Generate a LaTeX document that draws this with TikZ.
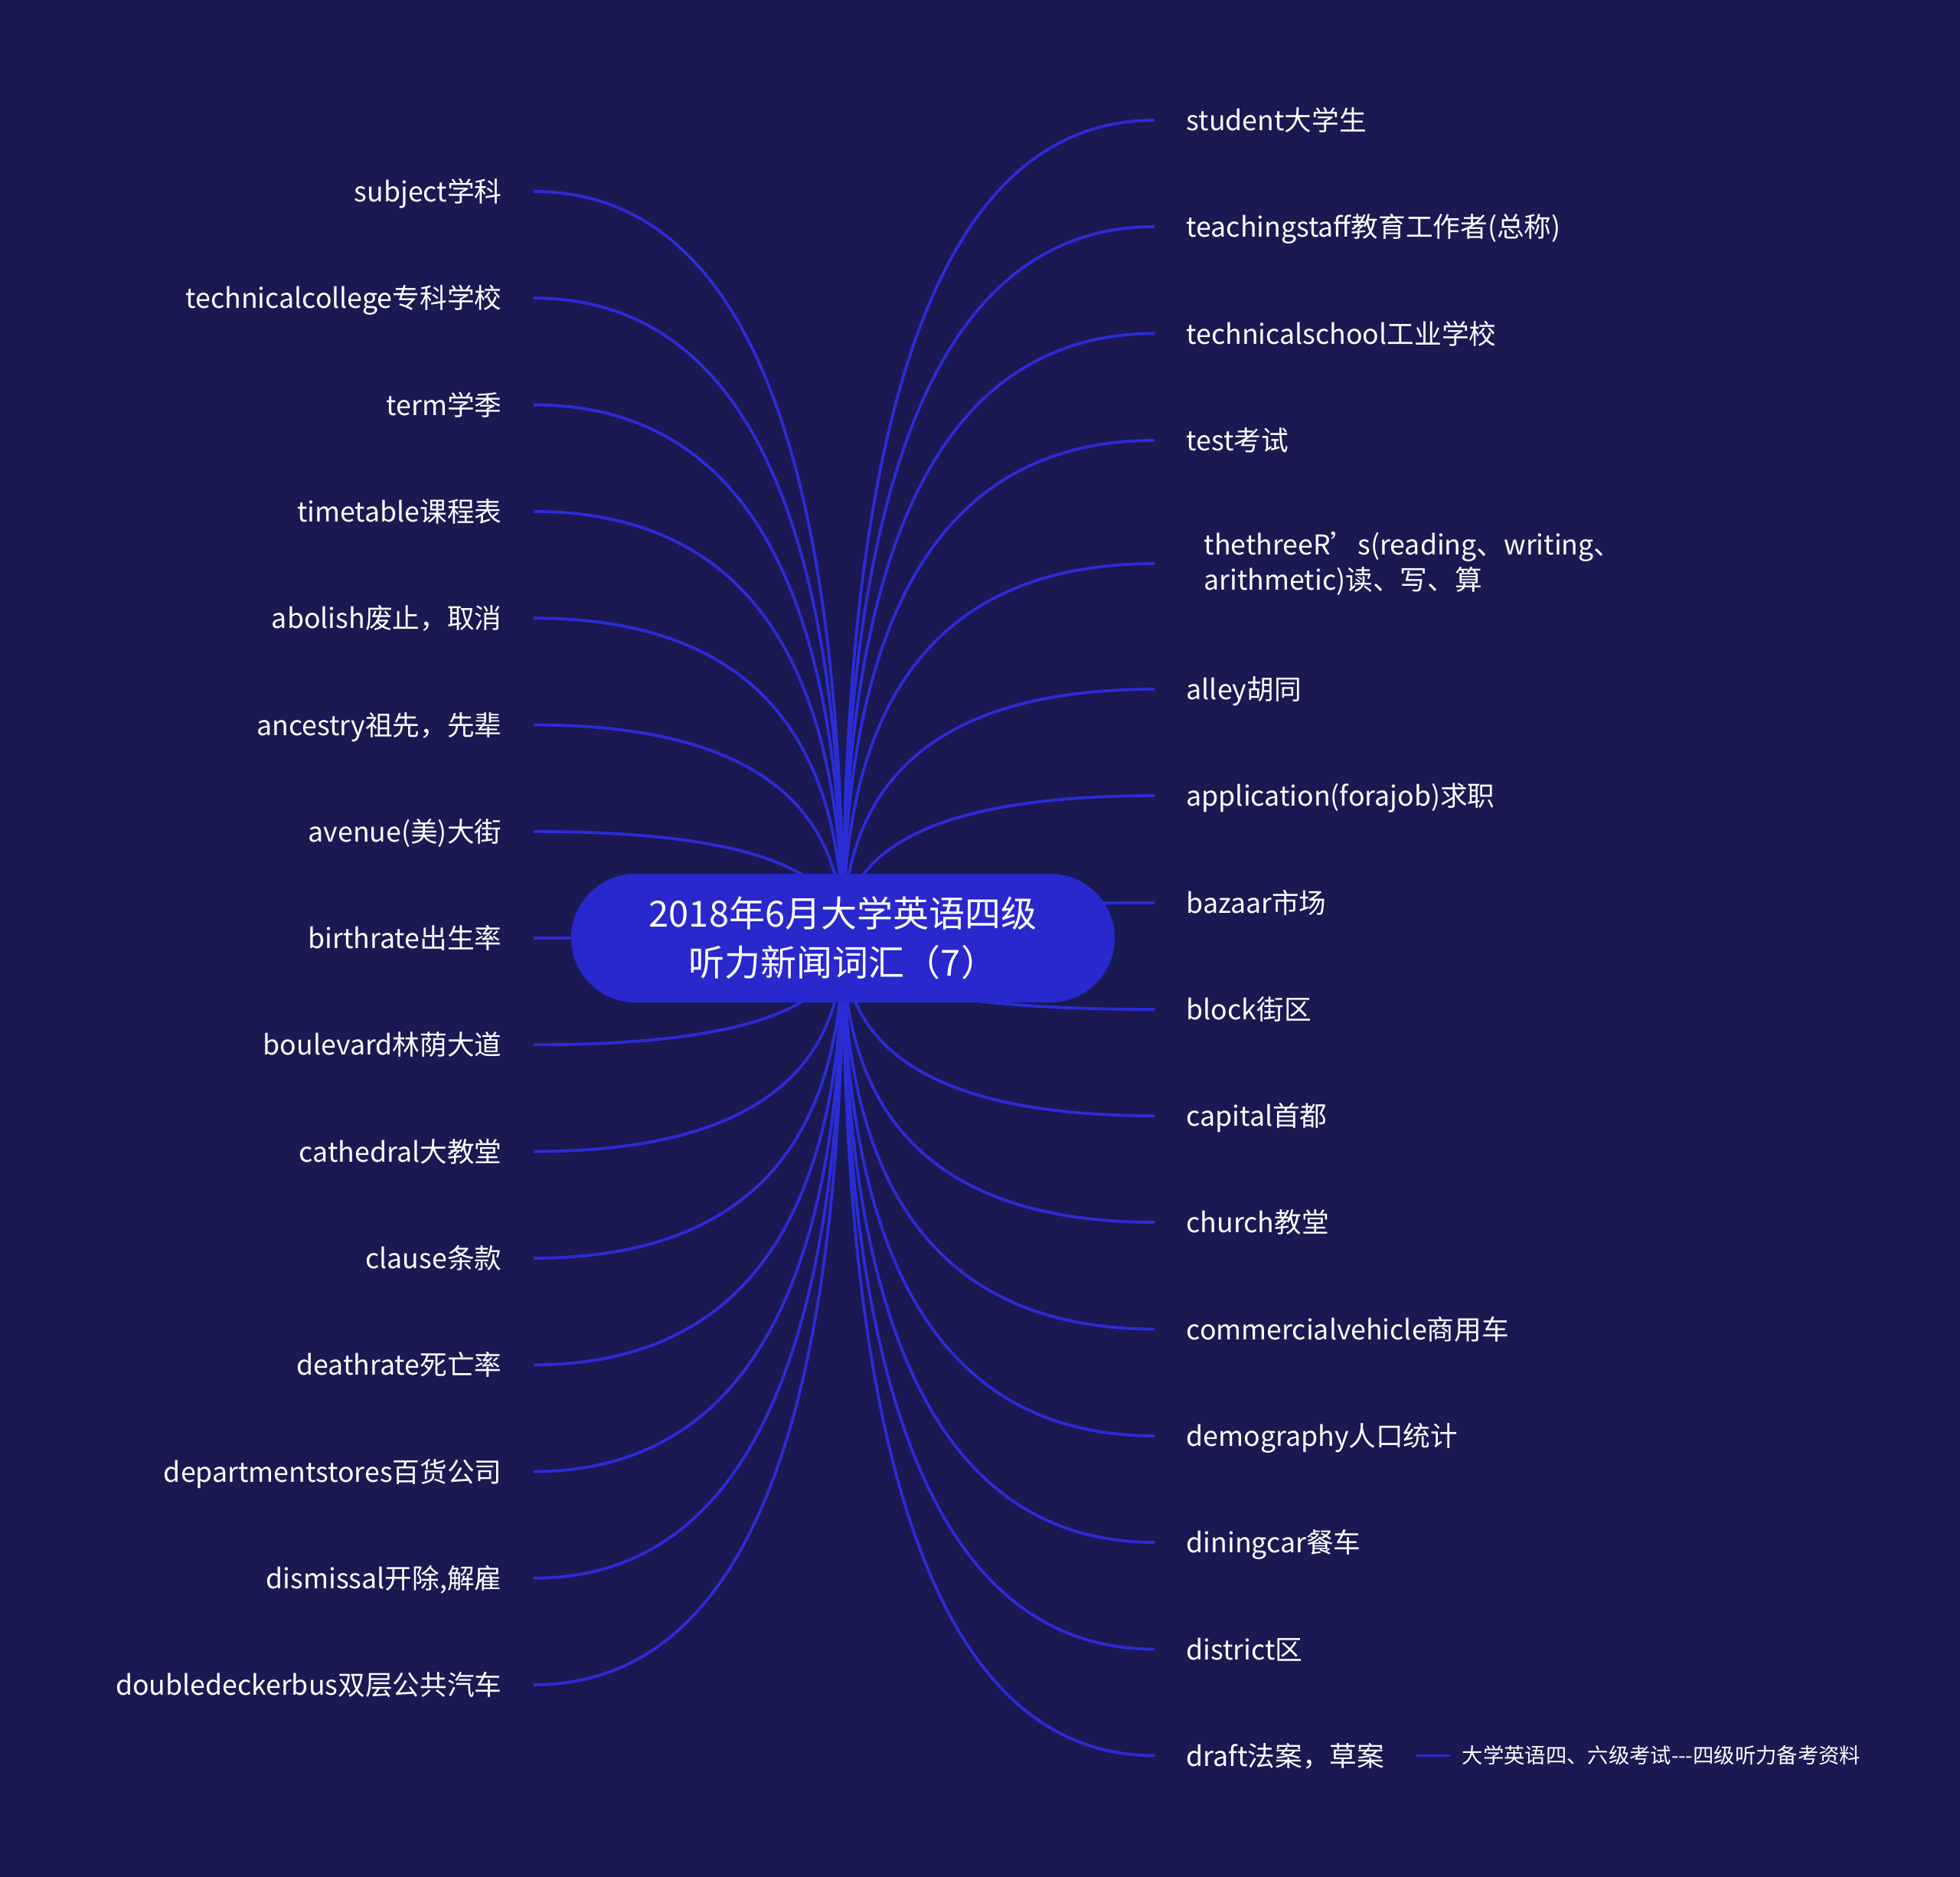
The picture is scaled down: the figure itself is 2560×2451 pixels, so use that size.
\documentclass[tikz,border=0pt]{standalone}
\usepackage{fontspec}
\setmainfont{Noto Sans CJK SC}
\usetikzlibrary{calc}
\pgfdeclarelayer{bg}
\pgfdeclarelayer{edges}
\pgfsetlayers{bg,edges,main}
\definecolor{bgc}{RGB}{26,25,82}
\definecolor{rootc}{RGB}{40,40,204}
\definecolor{linec}{RGB}{44,44,214}
\tikzset{
  lab/.style={text=white, font=\fontsize{10.7pt}{13.7pt}\selectfont, inner xsep=12.3pt, inner ysep=0pt, text height=9.4pt, text depth=1.3pt},
  llab/.style={lab, anchor=east},
  rlab/.style={lab, anchor=west},
  rootbox/.style={fill=rootc, rounded corners=25.2pt, minimum width=213pt, minimum height=50.4pt, text=white, align=center, font=\fontsize{14.1pt}{19.2pt}\selectfont, inner sep=0pt},
  lline/.style={draw=linec, line width=1.15pt},
  sublab/.style={text=white, font=\fontsize{8.2pt}{10pt}\selectfont, anchor=west, inner xsep=4.5pt, inner ysep=0pt, text height=7.2pt, text depth=1pt}
}
\begin{document}
\begin{tikzpicture}[x=0.3pt, y=-0.3pt]
\useasboundingbox (0,0) rectangle (2560,2451);
\begin{pgfonlayer}{bg}
\fill[bgc] (0,0) rectangle (2560,2451);
\end{pgfonlayer}

\node[rootbox] (root) at (1101,1225) {2018年6月大学英语四级\\听力新闻词汇（7）};

% left branches
\node[llab] (l1)  at (697,250)    {subject学科};
\node[llab] (l2)  at (697,389.3)  {technicalcollege专科学校};
\node[llab] (l3)  at (697,528.6)  {term学季};
\node[llab] (l4)  at (697,667.9)  {timetable课程表};
\node[llab] (l5)  at (697,807.2)  {abolish废止，取消};
\node[llab] (l6)  at (697,946.5)  {ancestry祖先，先辈};
\node[llab] (l7)  at (697,1085.8) {avenue(美)大街};
\node[llab] (l8)  at (697,1225)   {birthrate出生率};
\node[llab] (l9)  at (697,1364.3) {boulevard林荫大道};
\node[llab] (l10) at (697,1503.6) {cathedral大教堂};
\node[llab] (l11) at (697,1642.9) {clause条款};
\node[llab] (l12) at (697,1782.2) {deathrate死亡率};
\node[llab] (l13) at (697,1921.5) {departmentstores百货公司};
\node[llab] (l14) at (697,2060.8) {dismissal开除,解雇};
\node[llab] (l15) at (697,2200)   {doubledeckerbus双层公共汽车};

% right branches
\node[rlab] (r1)  at (1508,157)   {student大学生};
\node[rlab] (r2)  at (1508,296)   {teachingstaff教育工作者(总称)};
\node[rlab] (r3)  at (1508,435.5) {technicalschool工业学校};
\node[rlab] (r4)  at (1508,575)   {test考试};
\node[anchor=west, text=white, align=left, inner xsep=19.2pt, inner ysep=0pt, font=\fontsize{10.7pt}{13.7pt}\selectfont] (r5) at (1508,736) {thethreeR’s(reading、writing、\\arithmetic)读、写、算};
\node[rlab] (r6)  at (1508,900)   {alley胡同};
\node[rlab] (r7)  at (1508,1039)  {application(forajob)求职};
\node[rlab] (r8)  at (1508,1179)  {bazaar市场};
\node[rlab] (r9)  at (1508,1318)  {block街区};
\node[rlab] (r10) at (1508,1457)  {capital首都};
\node[rlab] (r11) at (1508,1596)  {church教堂};
\node[rlab] (r12) at (1508,1735.5){commercialvehicle商用车};
\node[rlab] (r13) at (1508,1875)  {demography人口统计};
\node[rlab] (r14) at (1508,2014)  {diningcar餐车};
\node[rlab] (r15) at (1508,2153.5){district区};
\node[rlab] (r16) at (1508,2292.5){draft法案，草案};

\node[sublab] (s1) at (1894,2292.5) {大学英语四、六级考试-{}-{}-四级听力备考资料};
\draw[lline] (r16.east) -- (s1.west);

\begin{pgfonlayer}{edges}
\foreach \i in {1,...,15}
  \draw[lline] (root.center) .. controls ($(root.center)!0.6667!(root.center |- l\i.east)$)
     and ($(l\i.east)!0.6667!(root.center |- l\i.east)$) .. (l\i.east);
\foreach \i in {1,...,16}
  \draw[lline] (root.center) .. controls ($(root.center)!0.6667!(root.center |- r\i.west)$)
     and ($(r\i.west)!0.6667!(root.center |- r\i.west)$) .. (r\i.west);
\end{pgfonlayer}
\end{tikzpicture}
\end{document}
